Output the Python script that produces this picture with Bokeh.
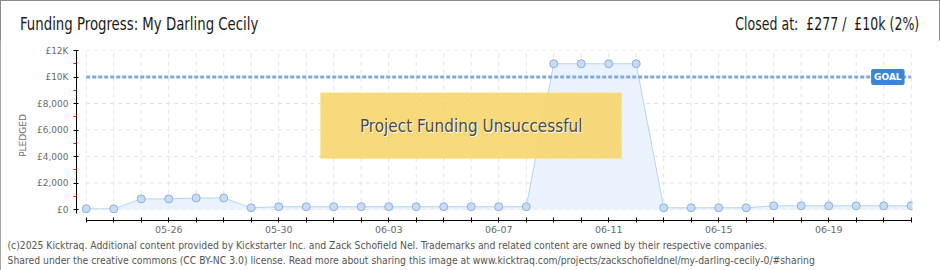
from bokeh.plotting import figure
from bokeh.models import Range1d, FixedTicker, Label, BoxAnnotation, ColumnDataSource, Title, Div
from bokeh.layouts import column
from bokeh.embed import file_html
from bokeh.resources import INLINE

# ---- data ----
dates = ["05-23", "05-24", "05-25", "05-26", "05-27", "05-28", "05-29", "05-30", "05-31",
         "06-01", "06-02", "06-03", "06-04", "06-05", "06-06", "06-07", "06-08", "06-09",
         "06-10", "06-11", "06-12", "06-13", "06-14", "06-15", "06-16", "06-17", "06-18",
         "06-19", "06-20", "06-21", "06-22"]
pledged = [50, 50, 800, 800, 870, 870, 130, 210, 210,
           210, 210, 210, 210, 210, 210, 210, 210, 11000,
           11000, 11000, 11000, 130, 130, 130, 130, 277, 277,
           277, 277, 277, 277]
goal = 10000
labelled_dates = ["05-26", "05-30", "06-03", "06-07", "06-11", "06-15", "06-19"]
y_ticks = [0, 2000, 4000, 6000, 8000, 10000, 12000]
y_tick_labels = ["£0", "£2,000", "£4,000", "£6,000", "£8,000", "£10K", "£12K"]
y_minor = [1000, 3000, 5000, 7000, 9000, 11000]

title_text = "Funding Progress: My Darling Cecily"
status_text = "Closed at:&nbsp; £277 /&nbsp; £10k (2%)"
footer1 = ("(c)2025 Kicktraq. Additional content provided by Kickstarter Inc. and Zack Schofield Nel. "
           "Trademarks and related content are owned by their respective companies.")
footer2 = ("Shared under the creative commons (CC BY-NC 3.0) license. Read more about sharing this image at "
           "www.kicktraq.com/projects/zackschofieldnel/my-darling-cecily-0/#sharing")

idx = list(range(len(dates)))
src = ColumnDataSource(dict(x=idx, y=pledged, base=[0] * len(idx)))

header = Div(width=940, height=40, margin=0, text=(
    '<div style="position:relative;width:940px;height:40px;font-family:\'DejaVu Sans Condensed\','
    'sans-serif;font-size:17px;line-height:20px;color:#1a1a1a;">'
    '<span style="position:absolute;left:20px;top:14px;white-space:nowrap;'
    'transform:scaleX(0.87);transform-origin:left center;">' + title_text + '</span>'
    '<span style="position:absolute;right:21px;top:14px;white-space:nowrap;'
    'transform:scaleX(0.82);transform-origin:right center;">' + status_text + '</span>'
    '</div>'))

p = figure(frame_width=836, frame_height=170,
           x_range=Range1d(-0.353, 30.047), y_range=Range1d(-830, 12000),
           output_backend="svg", toolbar_location=None, margin=0,
           min_border_left=76, min_border_right=28, min_border_top=10, min_border_bottom=50)
p.outline_line_color = None
p.xgrid.visible = False
p.ygrid.visible = False
p.background_fill_color = "white"
p.border_fill_color = "white"

# grid lines (dashed, within data extent)
last = idx[-1]
p.segment(x0=idx, y0=[0] * len(idx), x1=idx, y1=[y_ticks[-1]] * len(idx),
          line_color="#e2e2e2", line_dash="4 4", line_width=1)
p.segment(x0=[0] * len(y_ticks), y0=y_ticks, x1=[last] * len(y_ticks), y1=y_ticks,
          line_color="#e2e2e2", line_dash="4 4", line_width=1)

# area + line + markers
p.varea(x="x", y1="base", y2="y", source=src, fill_color="#eaf3fd", fill_alpha=1)
p.line(x="x", y="y", source=src, line_color="#b8d3f0", line_width=1)

# goal line
p.line(x=[0, last], y=[goal, goal], line_color="#86aad6", line_width=3, line_dash="4 2")

p.scatter(x="x", y="y", source=src, size=8, marker="circle",
          fill_color="#c6dcf6", line_color="#8eb0d8", line_width=1)

# axes
p.yaxis.ticker = FixedTicker(ticks=y_ticks, minor_ticks=y_minor)
p.yaxis.major_label_overrides = {t: l for t, l in zip(y_ticks, y_tick_labels)}
p.yaxis.bounds = (-300, 12000)
p.yaxis.axis_line_color = "black"
p.yaxis.major_tick_line_color = "black"
p.yaxis.major_tick_in = 2
p.yaxis.major_tick_out = 3
p.yaxis.minor_tick_line_color = "red"
p.yaxis.minor_tick_in = 0
p.yaxis.minor_tick_out = 3
p.yaxis.major_label_text_font = "DejaVu Sans"
p.yaxis.major_label_text_font_size = "9px"
p.yaxis.major_label_text_color = "#6a6a6a"
p.yaxis.major_label_standoff = 5
p.yaxis.axis_label = "PLEDGED"
p.yaxis.axis_label_text_font = "DejaVu Sans"
p.yaxis.axis_label_text_font_size = "9px"
p.yaxis.axis_label_text_font_style = "normal"
p.yaxis.axis_label_text_color = "#6a6a6a"
p.yaxis.axis_label_standoff = 6

p.xaxis.ticker = FixedTicker(ticks=idx, minor_ticks=[])
p.xaxis.major_label_overrides = {i: (d if d in labelled_dates else "") for i, d in zip(idx, dates)}
p.xaxis.bounds = (0, last)
p.xaxis.axis_line_color = "black"
p.xaxis.major_tick_line_color = "black"
p.xaxis.major_tick_in = 3
p.xaxis.major_tick_out = 2
p.xaxis.minor_tick_line_color = None
p.xaxis.major_label_text_font = "DejaVu Sans"
p.xaxis.major_label_text_font_size = "9.5px"
p.xaxis.major_label_text_color = "#6a6a6a"
p.xaxis.major_label_standoff = 3

# goal tag
p.add_layout(Label(x=last - 0.85, y=goal, text="GOAL", text_align="center", text_baseline="middle",
                   text_color="white", text_font="DejaVu Sans", text_font_size="9px",
                   text_font_style="bold", background_fill_color="#3a86d4",
                   padding=3, border_radius=2))

# unsuccessful banner
p.add_layout(BoxAnnotation(left=8.52, right=19.47, bottom=3850, top=8810,
                           fill_color="#f6d468", fill_alpha=0.9, line_color="#fbe37f", line_width=1,
                           hatch_pattern="/", hatch_color="#fbe293", hatch_alpha=0.45,
                           hatch_scale=6, hatch_weight=1))
p.add_layout(Label(x=14.0, y=6330, text="Project Funding Unsuccessful", text_align="center",
                   text_baseline="middle", text_color="white", text_font="DejaVu Sans Condensed",
                   text_font_size="17px", x_offset=1, y_offset=-1))
p.add_layout(Label(x=14.0, y=6330, text="Project Funding Unsuccessful", text_align="center",
                   text_baseline="middle", text_color="#4a4a4a", text_font="DejaVu Sans Condensed",
                   text_font_size="17px"))

# footer lines as titles below the x axis
p.add_layout(Title(text=footer1, align="left", offset=-69, standoff=2,
                   text_font="DejaVu Sans Condensed", text_font_size="10.3px",
                   text_font_style="normal", text_color="#555555"), "below")
p.add_layout(Title(text=footer2, align="left", offset=-69, standoff=0,
                   text_font="DejaVu Sans Condensed", text_font_size="10.3px",
                   text_font_style="normal", text_color="#555555"), "below")

layout = column(header, p, spacing=0,
                styles={"outline": "1.5px solid #8a8a8a", "outline-offset": "-1.5px"})

open("out.html", "w").write(file_html(layout, INLINE))
